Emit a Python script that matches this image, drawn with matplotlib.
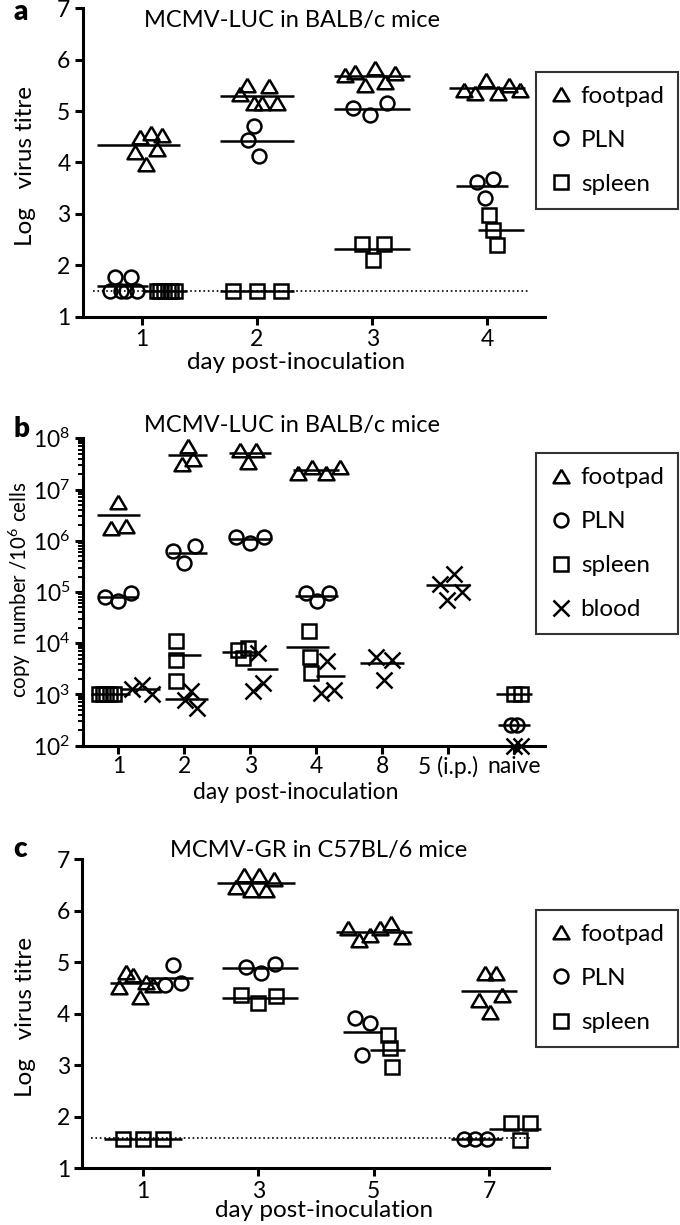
import numpy as np
import matplotlib
matplotlib.use("Agg")
import matplotlib.pyplot as plt
from matplotlib.lines import Line2D
from matplotlib.ticker import LogLocator, NullFormatter

plt.rcParams['font.family'] = ['Lato', 'DejaVu Sans']
plt.rcParams['mathtext.fontset'] = 'custom'
plt.rcParams['mathtext.rm'] = 'Lato'
plt.rcParams['mathtext.it'] = 'Lato:italic'
plt.rcParams['mathtext.bf'] = 'Lato:bold'

W, H = 680, 1225

# ---------------- data ----------------
# panel a: MCMV-LUC in BALB/c mice (log virus titre), values left to right
a_days = ['1', '2', '3', '4']
a_footpad = [[4.20, 4.50, 3.97, 4.57, 4.27, 4.53],
             [5.33, 5.51, 5.15, 5.15, 5.48, 5.15],
             [5.70, 5.77, 5.51, 5.83, 5.57, 5.74],
             [5.41, 5.35, 5.61, 5.35, 5.51, 5.41]]
a_pln = [[1.50, 1.78, 1.50, 1.50, 1.78, 1.50],
         [4.43, 4.71, 4.13],
         [5.06, 4.93, 5.15],
         [3.62, 3.30, 3.68]]
a_spleen = [[1.50, 1.50, 1.50, 1.50, 1.50, 1.50],
            [1.50, 1.50, 1.50],
            [2.41, 2.11, 2.41],
            [2.98, 2.68, 2.40]]
a_limit = 1.5

# panel b: MCMV-LUC in BALB/c mice (copies / 10^6 cells)
b_days = ['1', '2', '3', '4', '8', '5 (i.p.)', 'naive']
b_footpad = [[1.8e6, 5.8e6, 1.9e6], [3.2e7, 7.0e7, 4.0e7],
             [5.9e7, 3.5e7, 5.9e7], [2.1e7, 2.8e7, 2.1e7, 2.8e7], [], [], []]
b_pln = [[8.1e4, 6.6e4, 9.5e4], [6.2e5, 3.6e5, 7.8e5],
         [1.2e6, 8.9e5, 1.2e6], [9.5e4, 6.6e4, 9.5e4], [], [], [250, 250]]
b_spleen = [[1000, 1000, 1000, 1000, 1000], [1.1e4, 4.8e3, 1.8e3],
            [7.4e3, 5.1e3, 8.1e3], [1.7e4, 5.4e3, 2.6e3], [], [], [1000, 1000]]
b_blood = [[1300, 1500, 1000], [790, 1150, 550], [1150, 6500, 1660],
           [1070, 4470, 1200], [5500, 1950, 4700],
           [1.45e5, 7.1e4, 2.2e5, 1.02e5], [100, 100]]

# panel c: MCMV-GR in C57BL/6 mice (log virus titre)
c_days = ['1', '3', '5', '7']
c_footpad = [[4.53, 4.82, 4.75, 4.33, 4.62, 4.55],
             [6.47, 6.70, 6.40, 6.70, 6.40, 6.62],
             [5.66, 5.43, 5.53, 5.66, 5.76, 5.50],
             [4.27, 4.79, 4.04, 4.79, 4.37]]
c_pln = [[4.55, 4.95, 4.60],
         [4.90, 4.79, 4.97],
         [3.91, 3.20, 3.82],
         [1.57, 1.57, 1.57]]
c_spleen = [[1.57, 1.57, 1.57],
            [4.37, 4.20, 4.35],
            [3.59, 3.33, 2.97],
            [1.87, 1.55, 1.87]]
c_limit = 1.58

# ---------------- layout (point offset, point spread, line offset, line width) ----------------
a_layout = {
    'footpad': [(0.06, 0.24, -0.03, 0.72), (0.01, 0.32, 0, 0.65), (-0.02, 0.43, 0, 0.66), (0.04, 0.48, 0, 0.66)],
    'PLN': [(-0.16, 0.23, -0.17, 0.44), (-0.03, 0.09, 0, 0.65), (-0.02, 0.30, 0, 0.66), (-0.02, 0.14, -0.05, 0.45)],
    'spleen': [(0.21, 0.16, 0.2, 0.38), (0, 0.41, 0, 0.65), (0.01, 0.19, 0, 0.66), (0.05, 0.07, 0.12, 0.40)],
}
b_layout = {
    'footpad': [(0, 0.23, 0, 0.66), (0.05, 0.18, 0.05, 0.59), (-0.03, 0.25, 0, 0.63), (0.04, 0.63, 0, 0.70),
                None, None, None],
    'PLN': [(0, 0.40, 0, 0.60), (0, 0.33, 0.05, 0.59), (0, 0.43, 0, 0.65), (0.02, 0.35, 0, 0.65),
            None, None, (0, 0.1, 0, 0.5)],
    'spleen': [(-0.18, 0.23, -0.12, 0.6), (-0.12, 0, 0, 0.5), (-0.11, 0.15, -0.17, 0.53), (-0.09, 0.03, -0.13, 0.66),
               None, None, (0.05, 0.1, 0, 0.55)],
    'blood': [(0.36, 0.3, 0.33, 0.6), (0.1, 0.18, 0.04, 0.65), (0.12, 0.15, 0.18, 0.47), (0.17, 0.2, 0.22, 0.43),
              (0.03, 0.25, 0, 0.66), (0.04, 0.33, 0, 0.66), (0.05, 0.1, 0, 0.5)],
}
c_layout = {
    'footpad': [(-0.06, 0.29, -0.08, 0.41), (-0.03, 0.33, -0.02, 0.67), (0.01, 0.46, 0, 0.66), (0.01, 0.2, 0, 0.49)],
    'PLN': [(0.26, 0.14, 0.23, 0.40), (0.02, 0.25, 0.01, 0.66), (-0.1, 0.13, -0.1, 0.34), (-0.12, 0.2, -0.11, 0.45)],
    'spleen': [(0, 0.35, 0, 0.68), (0, 0.30, 0.01, 0.66), (0.14, 0.03, 0.12, 0.30), (0.27, 0.16, 0.22, 0.45)],
}

TRI = [(0, 0.85), (-1, -0.85), (1, -0.85), (0, 0.85)]
STYLES = {
    'footpad': dict(marker=TRI, ms=11.5, mfc='none', mec='black', mew=1.8),
    'PLN': dict(marker='o', ms=10, mfc='none', mec='black', mew=1.8),
    'spleen': dict(marker='s', ms=10, mfc='none', mec='black', mew=1.8),
    'blood': dict(marker='x', ms=11, mec='black', mew=1.8),
}

TICK_FS = 16.5
LEG_FS = 17.5
LAB_FS = 17.5
TITLE_FS = 17


def draw_panel(ax, cats, tissues, layout):
    x = np.arange(1, len(cats) + 1)
    for name, groups in tissues:
        for i, vals in enumerate(groups):
            if not vals:
                continue
            v = np.asarray(vals, float)
            p_off, p_w, l_off, l_w = layout[name][i]
            xs = x[i] + p_off + np.linspace(-p_w / 2, p_w / 2, len(v))
            ax.plot(xs, v, ls='none', clip_on=False, zorder=3, **STYLES[name])
            m = v.mean()
            ax.plot([x[i] + l_off - l_w / 2, x[i] + l_off + l_w / 2], [m, m],
                    color='black', lw=1.8, solid_capstyle='butt', clip_on=False, zorder=4)
    ax.set_xticks(x)
    ax.set_xticklabels(cats, fontsize=TICK_FS)
    for s in ['top', 'right']:
        ax.spines[s].set_visible(False)
    for s in ['left', 'bottom']:
        ax.spines[s].set_linewidth(2.2)
    ax.tick_params(axis='both', which='major', length=6, width=2.2, labelsize=TICK_FS, pad=3)


def add_legend(ax, names, top):
    handles = [Line2D([], [], ls='none', label=n, **STYLES[n]) for n in names]
    leg = ax.legend(handles=handles, loc='upper left',
                    bbox_to_anchor=(536 / W, 1 - top / H), bbox_transform=fig.transFigure,
                    borderaxespad=0, fontsize=LEG_FS, frameon=True, fancybox=False,
                    borderpad=0.57, labelspacing=0.95, handlelength=0.95, handletextpad=0.32)
    leg.get_frame().set_edgecolor('black')
    leg.get_frame().set_linewidth(1.5)


fig = plt.figure(figsize=(W / 100, H / 100), dpi=100)


def axes_px(x0, x1, y_top, y_bot):
    return fig.add_axes([x0 / W, 1 - y_bot / H, (x1 - x0) / W, (y_bot - y_top) / H])


# ---- panel a ----
ax_a = axes_px(83, 545, 8.3, 316.7)
draw_panel(ax_a, a_days, [('footpad', a_footpad), ('PLN', a_pln), ('spleen', a_spleen)], a_layout)
ax_a.set_xlim(0.49, 4.5)
ax_a.set_ylim(1, 7)
ax_a.set_yticks(range(1, 8))
ax_a.plot([0.58, 4.37], [a_limit, a_limit], ls=':', color='black', lw=1.2, zorder=2)
add_legend(ax_a, ['footpad', 'PLN', 'spleen'], 71.7)

# ---- panel b ----
ax_b = axes_px(83, 545, 438.3, 745.7)
ax_b.set_yscale('log')
draw_panel(ax_b, b_days, [('footpad', b_footpad), ('PLN', b_pln), ('spleen', b_spleen), ('blood', b_blood)],
           b_layout)
ax_b.set_xlim(0.465, 7.47)
ax_b.set_ylim(1e2, 1e8)
ax_b.set_yticks([10.0 ** k for k in range(2, 9)])
ax_b.set_yticklabels([r'$10^{%d}$' % k for k in range(2, 9)], fontsize=TICK_FS)
ax_b.yaxis.set_minor_locator(LogLocator(base=10, subs=np.arange(2, 10), numticks=20))
ax_b.yaxis.set_minor_formatter(NullFormatter())
ax_b.tick_params(axis='y', which='minor', length=3.5, width=1.4)
ax_b.tick_params(axis='x', which='major', pad=1.5)
add_legend(ax_b, ['footpad', 'PLN', 'spleen', 'blood'], 453.3)

# ---- panel c ----
ax_c = axes_px(82.4, 548.6, 859.3, 1168.3)
draw_panel(ax_c, c_days, [('footpad', c_footpad), ('PLN', c_pln), ('spleen', c_spleen)], c_layout)
ax_c.set_xlim(0.474, 4.515)
ax_c.set_ylim(1, 7)
ax_c.set_yticks(range(1, 8))
ax_c.plot([0.55, 4.37], [c_limit, c_limit], ls=':', color='black', lw=1.2, zorder=2)
add_legend(ax_c, ['footpad', 'PLN', 'spleen'], 910)

# ---- texts ----
for letter, yb in [('a', 20), ('b', 437), ('c', 857)]:
    fig.text(13 / W, 1 - yb / H, letter, fontsize=20, fontweight='heavy', va='baseline')
for title, xc, yb in [('MCMV-LUC in BALB/c mice', 291.5, 27), ('MCMV-LUC in BALB/c mice', 292.5, 432),
                      ('MCMV-GR in C57BL/6 mice', 319, 857)]:
    fig.text(xc / W, 1 - yb / H, title, fontsize=TITLE_FS, ha='center', va='baseline')
for xc, yb, fs in [(296, 369, LAB_FS), (296, 799, 16.5), (324, 1217, LAB_FS)]:
    fig.text(xc / W, 1 - yb / H, 'day post-inoculation', fontsize=fs, ha='center', va='baseline')
fig.text(26 / W, 1 - 166 / H, 'Log   virus titre', fontsize=LAB_FS, rotation=90, ha='center', va='center')
fig.text(20 / W, 1 - 590 / H, 'copy  number /10$^{6}$ cells', fontsize=14.8, rotation=90,
         ha='center', va='center')
fig.text(26 / W, 1 - 1017 / H, 'Log   virus titre', fontsize=LAB_FS, rotation=90, ha='center', va='center')

fig.savefig('out.png', dpi=100)
